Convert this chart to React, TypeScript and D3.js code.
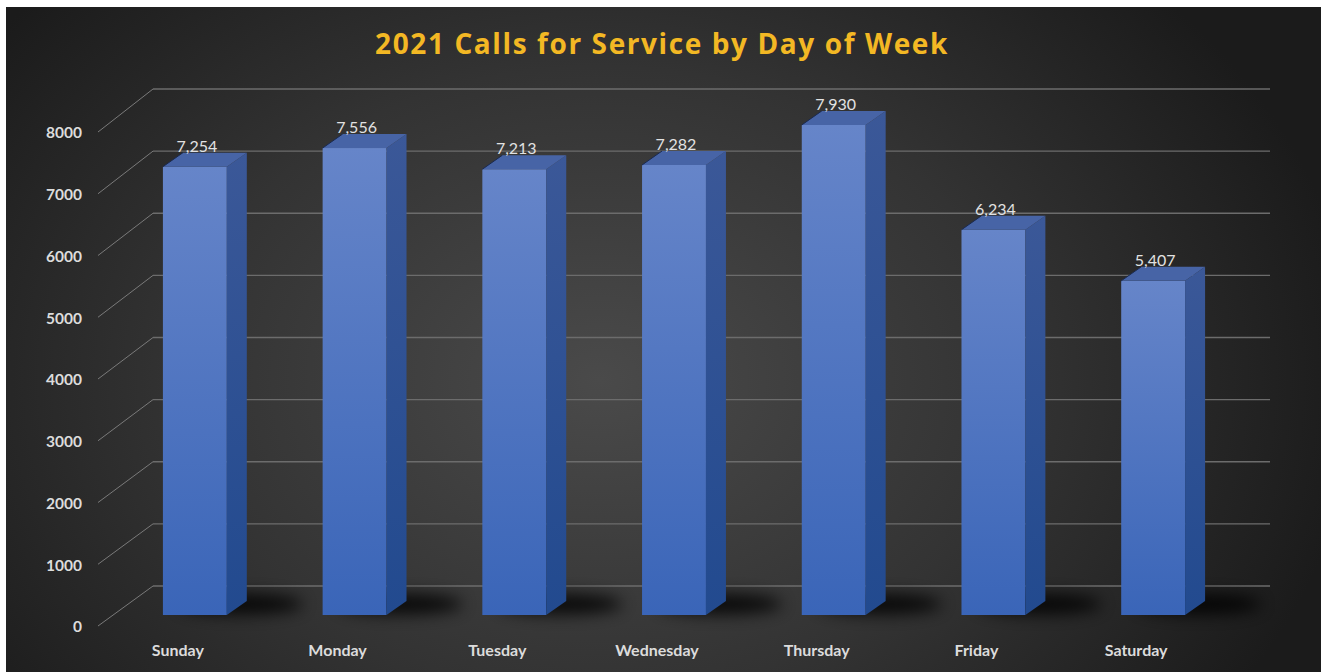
import React from "react";
import * as d3 from "d3";

const days = ["Sunday", "Monday", "Tuesday", "Wednesday", "Thursday", "Friday", "Saturday"];
const calls = [7254, 7556, 7213, 7282, 7930, 6234, 5407];
const yTicks = [0, 1000, 2000, 3000, 4000, 5000, 6000, 7000, 8000];
const title = "2021 Calls for Service by Day of Week";

const W = 1321;
const H = 672;

export default function App() {
  const x = d3.scaleBand<string>().domain(days).range([115, 1233]).paddingInner(0.6).paddingOuter(0.3);
  const yFront = d3.scaleLinear().domain([0, 8000]).range([615, 120.6]);
  const yWall = d3.scaleLinear().domain([0, 8000]).range([586, 89]);
  const yLab = d3.scaleLinear().domain([0, 8000]).range([627, 133]);
  const fmt = d3.format(",");
  const dx = 20;
  const dy = -14;
  const font = "Lato, 'Open Sans', sans-serif";
  const font2 = "'Open Sans', Lato, sans-serif";

  return (
    <svg width={W} height={H} style={{ position: "absolute", left: 0, top: 0 }}>
      <defs>
        <radialGradient id="bg" gradientUnits="userSpaceOnUse" cx={600} cy={380} r={760}
          gradientTransform="translate(600 380) scale(1 0.75) translate(-600 -380)">
          <stop offset="0" stopColor="#4a4a4a" />
          <stop offset="0.55" stopColor="#333333" />
          <stop offset="1" stopColor="#1b1b1b" />
        </radialGradient>
        <linearGradient id="front" x1="0" y1="0" x2="0" y2="1">
          <stop offset="0" stopColor="#6685c9" />
          <stop offset="1" stopColor="#3a65b8" />
        </linearGradient>
        <linearGradient id="side" x1="0" y1="0" x2="0" y2="1">
          <stop offset="0" stopColor="#3b5898" />
          <stop offset="1" stopColor="#224a8f" />
        </linearGradient>
        <filter id="blur" x="-50%" y="-100%" width="200%" height="300%">
          <feGaussianBlur stdDeviation="8" />
        </filter>
      </defs>
      <rect x={0} y={0} width={W} height={H} fill="#ffffff" />
      <rect x={6} y={7} width={W - 6} height={H - 7} fill="url(#bg)" />

      <text x={662} y={54} textAnchor="middle" fill="#f3b824" fontFamily={font2}
        fontWeight="bold" fontSize={28} letterSpacing={1.6}>{title}</text>

      {yTicks.map((t) => (
        <g key={t}>
          <line x1={153} x2={1270} y1={yWall(t)} y2={yWall(t)} stroke="#6c6c6c" strokeWidth={1.3} />
          <line x1={98} y1={yLab(t) - 1} x2={153} y2={yWall(t)} stroke="#7a7a7a" strokeWidth={1} />
          <text x={82} y={yLab(t)} dy="0.35em" textAnchor="end" fill="#dcdcdc"
            fontFamily={font} fontWeight="bold" fontSize={15.5}>{t}</text>
        </g>
      ))}

      {days.map((d) => {
        const x1 = (x(d) as number) + x.bandwidth();
        return (
          <ellipse key={d + "s"} cx={x1 + 14} cy={604} rx={62} ry={10} fill="#000" opacity={0.85}
            filter="url(#blur)" />
        );
      })}

      {days.map((d, i) => {
        const x0 = x(d) as number;
        const x1 = x0 + x.bandwidth();
        const yt = yFront(calls[i]);
        const yb = yFront(0);
        return (
          <g key={d}>
            <rect x={x0} y={yt} width={x1 - x0} height={yb - yt} fill="url(#front)" />
            <polygon points={`${x1},${yt} ${x1 + dx},${yt + dy} ${x1 + dx},${yb + dy} ${x1},${yb}`}
              fill="url(#side)" />
            <polygon points={`${x0},${yt} ${x0 + dx},${yt + dy} ${x1 + dx},${yt + dy} ${x1},${yt}`}
              fill="#4764a6" />
            <line x1={x0} y1={yt} x2={x0 + dx} y2={yt + dy} stroke="#1a2a50" strokeWidth={1} />
            <text x={(x0 + x1) / 2 + 2} y={yt - 15} textAnchor="middle" fill="#e2e2e2"
              fontFamily={font} fontSize={16}>{fmt(calls[i])}</text>
            <text x={(x0 + x1) / 2 - 17} y={656} textAnchor="middle" fill="#dcdcdc"
              fontFamily={font} fontWeight="bold" fontSize={16}>{d}</text>
          </g>
        );
      })}
    </svg>
  );
}
